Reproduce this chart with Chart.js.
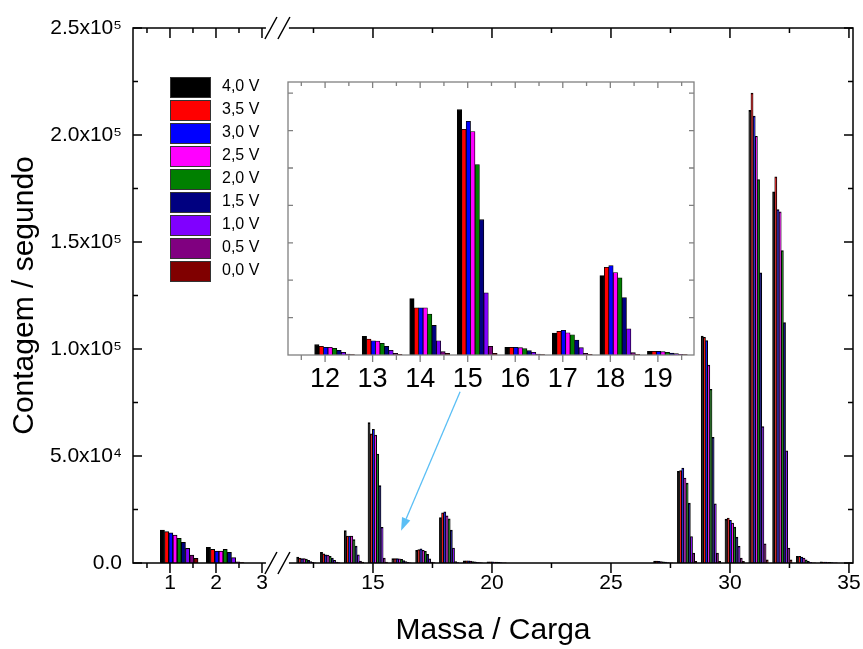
<!DOCTYPE html>
<html>
<head>
  <script src="https://cdn.jsdelivr.net/npm/chart.js"></script>
  <style>
    body { margin: 0; background: #fff; }
    #wrap { position: relative; width: 863px; height: 649px; }
    #mainChart { position: absolute; left: 0; top: 0; }
    #insetChart { position: absolute; left: 282px; top: 76px; }
  </style>
</head>
<body>
  <div id="wrap">
    <canvas id="mainChart" width="863" height="649"></canvas>
    <canvas id="insetChart" width="418" height="324"></canvas>
  </div>

  <script>
    // Series names and colours (one dataset per voltage)
    var voltageLabels = ['4,0 V', '3,5 V', '3,0 V', '2,5 V', '2,0 V', '1,5 V', '1,0 V', '0,5 V', '0,0 V'];
    var barColors = ['#000000', '#ff0000', '#0000ff', '#ff00ff', '#008000', '#000080', '#8000ff', '#800080', '#800000'];

    // Massa / Carga of every group (3 and 11 are the empty points on both sides of the break)
    var masses = [1, 2, 3, 11, 12, 13, 14, 15, 16, 17, 18, 19, 20, 21, 22, 23, 24, 25, 26, 27, 28, 29, 30, 31, 32, 33, 34];

    // counts per second, same order as masses
    var v40 = [15400, 7300, 0, 0, 2760, 4980, 15100, 65600, 2040, 5870, 21240, 980, 600, 0, 0, 0, 0, 0, 0, 900, 42800, 106000, 20500, 211500, 173400, 3100, 500];
    var v35 = [14650, 6400, 0, 0, 2310, 4270, 12620, 60360, 2040, 6310, 23470, 980, 550, 0, 0, 0, 0, 0, 0, 850, 43200, 105400, 21000, 219600, 180400, 3100, 450];
    var v30 = [14150, 5600, 0, 0, 2040, 3820, 12620, 62490, 2040, 6580, 23910, 980, 500, 0, 0, 0, 0, 0, 0, 800, 44300, 103900, 19900, 208800, 165100, 2800, 400];
    var v25 = [13050, 5600, 0, 0, 2040, 3730, 12620, 59730, 1960, 5960, 22040, 890, 450, 0, 0, 0, 0, 0, 0, 700, 39700, 92500, 18700, 199400, 164100, 2300, 350];
    var v20 = [11500, 6400, 0, 0, 1780, 3110, 10930, 50930, 1690, 5420, 20620, 710, 400, 0, 0, 0, 0, 0, 0, 600, 37300, 81200, 16800, 179200, 146000, 1500, 300];
    var v15 = [9650, 5000, 0, 0, 1240, 2310, 7910, 36180, 1160, 4000, 15380, 530, 300, 0, 0, 0, 0, 0, 0, 400, 28000, 58700, 12100, 135600, 112300, 800, 200];
    var v10 = [6850, 2500, 0, 0, 710, 1240, 3820, 16620, 710, 1960, 7020, 360, 200, 0, 0, 0, 0, 0, 0, 200, 12400, 27700, 7800, 63700, 52400, 300, 100];
    var v05 = [3750, 600, 0, 0, 270, 440, 890, 2310, 270, 440, 620, 180, 100, 0, 0, 0, 0, 0, 0, 100, 4600, 4600, 2300, 9000, 7000, 100, 50];
    var v00 = [2200, 200, 0, 0, 90, 180, 440, 440, 90, 180, 180, 90, 50, 0, 0, 0, 0, 0, 0, 50, 800, 800, 800, 1500, 1500, 50, 0];
    var series = [v40, v35, v30, v25, v20, v15, v10, v05, v00];

    // axis ticks
    var xTickMasses = [1, 2, 3, 15, 20, 25, 30, 35];
    var xTickLabels = ['1', '2', '3', '15', '20', '25', '30', '35'];
    var xMinorMasses = [0.5, 1.5, 2.5, 12.5, 17.5, 22.5, 27.5, 32.5];
    var yTickLabels = ['0.0', '5.0x10\u2074', '1.0x10\u2075', '1.5x10\u2075', '2.0x10\u2075', '2.5x10\u2075'];
    var insetTickMasses = [12, 13, 14, 15, 16, 17, 18, 19];
    var insetTickLabels = ['12', '13', '14', '15', '16', '17', '18', '19'];

    Chart.defaults.font.family = '"Liberation Sans", Arial, sans-serif';
    Chart.defaults.color = '#000';

    // broken x axis: the part left of the break is stretched
    function disp(m) {
      return m < 7 ? 6.47 + (m - 1) * 1.933 : m;
    }
    var groupShift = 0.2;   // bars of a group start at the tick

    var mainSets = voltageLabels.map(function (lab, i) {
      return {
        label: lab,
        data: masses.map(function (m, j) { return { x: disp(m + groupShift), y: series[i][j] }; }),
        backgroundColor: barColors[i],
        borderColor: '#000',
        borderWidth: 1,
        barThickness: 'flex',
        categoryPercentage: 0.82,
        barPercentage: 1
      };
    });

    var insetSets = voltageLabels.map(function (lab, i) {
      var pts = [];
      masses.forEach(function (m, j) {
        if (m >= 12 && m <= 19) pts.push({ x: m + groupShift, y: series[i][j] });
      });
      return {
        label: lab,
        data: pts,
        backgroundColor: barColors[i],
        borderColor: '#000',
        borderWidth: 0.8,
        barThickness: 'flex',
        categoryPercentage: 0.84,
        barPercentage: 1
      };
    });

    var arrowFrom = [18.66, 80000];
    var arrowTo = [16.18, 15100];

    var mainFrame = {
      id: 'mainFrame',
      afterDraw: function (chart) {
        var ctx = chart.ctx, a = chart.chartArea;
        var xs = chart.scales.x, ys = chart.scales.y;
        ctx.save();
        ctx.strokeStyle = '#000';
        ctx.lineWidth = 1.5;
        ctx.strokeRect(a.left, a.top, a.right - a.left, a.bottom - a.top);

        function xTick(m, len) {
          var px = xs.getPixelForValue(disp(m));
          ctx.beginPath();
          ctx.moveTo(px, a.bottom); ctx.lineTo(px, a.bottom + len);
          ctx.moveTo(px, a.top); ctx.lineTo(px, a.top + len);
          ctx.stroke();
        }
        xTickMasses.forEach(function (m) { xTick(m, 10); });
        xMinorMasses.forEach(function (m) { xTick(m, 5); });

        for (var v = 0; v <= 250000; v += 25000) {
          var py = ys.getPixelForValue(v);
          var len = v % 50000 === 0 ? 9 : 5;
          ctx.beginPath();
          ctx.moveTo(a.left, py); ctx.lineTo(a.left + len, py);
          ctx.moveTo(a.right, py); ctx.lineTo(a.right - len, py);
          ctx.stroke();
        }

        // axis break marks
        var b0 = xs.getPixelForValue(10.46), b1 = xs.getPixelForValue(11.51);
        [a.top, a.bottom].forEach(function (yy) {
          ctx.fillStyle = '#fff';
          ctx.fillRect(b0 + 1, yy - 2, b1 - b0 - 2, 4);
          ctx.beginPath();
          ctx.moveTo(b0, yy + 11); ctx.lineTo(b0 + 12, yy - 11);
          ctx.moveTo(b1 - 12, yy + 11); ctx.lineTo(b1, yy - 11);
          ctx.stroke();
        });

        // legend
        ctx.font = '16px "Liberation Sans", Arial, sans-serif';
        ctx.textBaseline = 'middle';
        ctx.textAlign = 'left';
        chart.data.datasets.forEach(function (ds, i) {
          var top = 77 + i * 23;
          ctx.fillStyle = ds.backgroundColor;
          ctx.fillRect(170, top, 40, 20);
          ctx.strokeStyle = '#333';
          ctx.lineWidth = 1;
          ctx.strokeRect(170.5, top + 0.5, 40, 20);
          ctx.fillStyle = '#000';
          ctx.fillText(ds.label, 222, top + 10);
        });

        // arrow from the inset to the zoomed region
        var x0 = xs.getPixelForValue(arrowFrom[0]), y0 = ys.getPixelForValue(arrowFrom[1]);
        var x1 = xs.getPixelForValue(arrowTo[0]), y1 = ys.getPixelForValue(arrowTo[1]);
        var ang = Math.atan2(y1 - y0, x1 - x0);
        var hl = 13, hw = 4.5;
        var bx = x1 - hl * Math.cos(ang), by = y1 - hl * Math.sin(ang);
        ctx.strokeStyle = '#5bbff5';
        ctx.fillStyle = '#5bbff5';
        ctx.lineWidth = 1.3;
        ctx.beginPath();
        ctx.moveTo(x0, y0); ctx.lineTo(bx, by);
        ctx.stroke();
        ctx.beginPath();
        ctx.moveTo(x1, y1);
        ctx.lineTo(bx + hw * Math.sin(ang), by - hw * Math.cos(ang));
        ctx.lineTo(bx - hw * Math.sin(ang), by + hw * Math.cos(ang));
        ctx.closePath();
        ctx.fill();
        ctx.restore();
      }
    };

    var insetFrame = {
      id: 'insetFrame',
      beforeDatasetsDraw: function (chart) {
        var a = chart.chartArea;
        chart.ctx.fillStyle = '#fff';
        chart.ctx.fillRect(a.left, a.top, a.right - a.left, a.bottom - a.top);
      },
      afterDraw: function (chart) {
        var ctx = chart.ctx, a = chart.chartArea;
        var xs = chart.scales.x, ys = chart.scales.y;
        ctx.save();
        ctx.strokeStyle = '#808080';
        ctx.lineWidth = 1.3;
        ctx.strokeRect(a.left, a.top, a.right - a.left, a.bottom - a.top);
        for (var m = 11.5; m <= 19.5; m += 0.5) {
          var px = xs.getPixelForValue(m);
          var major = m % 1 === 0;
          ctx.beginPath();
          ctx.moveTo(px, a.bottom); ctx.lineTo(px, a.bottom + (major ? 7 : 5));
          ctx.moveTo(px, a.top); ctx.lineTo(px, a.top + (major ? 6 : 4));
          ctx.stroke();
        }
        for (var v = 10000; v <= 70000; v += 10000) {
          var py = ys.getPixelForValue(v);
          ctx.beginPath();
          ctx.moveTo(a.left, py); ctx.lineTo(a.left + 5, py);
          ctx.moveTo(a.right, py); ctx.lineTo(a.right - 5, py);
          ctx.stroke();
        }
        ctx.restore();
      }
    };

    new Chart(document.getElementById('mainChart'), {
      type: 'bar',
      data: { datasets: mainSets },
      options: {
        responsive: false,
        animation: false,
        layout: { padding: { left: 0, top: 28, right: 10, bottom: 0 } },
        plugins: { legend: { display: false }, tooltip: { enabled: false } },
        scales: {
          x: {
            type: 'linear',
            min: 4.916,
            max: 35.17,
            offset: false,
            grid: { display: false, drawTicks: false },
            border: { display: false },
            afterBuildTicks: function (s) {
              s.ticks = xTickMasses.map(function (m) { return { value: disp(m) }; });
            },
            afterFit: function (s) { s.height = 86; s.paddingLeft = 0; s.paddingRight = 0; },
            ticks: {
              autoSkip: false,
              maxRotation: 0,
              padding: 8,
              font: { size: 21 },
              callback: function (v, i) { return xTickLabels[i]; }
            },
            title: { display: true, text: 'Massa / Carga', font: { size: 30 }, padding: { top: 0, bottom: 0 } }
          },
          y: {
            min: 0,
            max: 250000,
            grid: { display: false, drawTicks: false },
            border: { display: false },
            afterFit: function (s) { s.width = 133; s.paddingTop = 0; s.paddingBottom = 0; },
            ticks: {
              stepSize: 50000,
              padding: 11,
              font: { size: 21 },
              callback: function (v) { return yTickLabels[Math.round(v / 50000)]; }
            },
            title: { display: true, text: 'Contagem / segundo', font: { size: 30 }, padding: { top: 7, bottom: 0 } }
          }
        }
      },
      plugins: [mainFrame]
    });

    new Chart(document.getElementById('insetChart'), {
      type: 'bar',
      data: { datasets: insetSets },
      options: {
        responsive: false,
        animation: false,
        layout: { padding: { left: 6, top: 6, right: 6, bottom: 0 } },
        plugins: { legend: { display: false }, tooltip: { enabled: false } },
        scales: {
          x: {
            type: 'linear',
            min: 11.22,
            max: 19.76,
            offset: false,
            grid: { display: false, drawTicks: false },
            border: { display: false },
            afterBuildTicks: function (s) {
              s.ticks = insetTickMasses.map(function (m) { return { value: m }; });
            },
            afterFit: function (s) { s.height = 45; s.paddingLeft = 0; s.paddingRight = 0; },
            ticks: {
              autoSkip: false,
              maxRotation: 0,
              padding: 8,
              font: { size: 27 },
              callback: function (v, i) { return insetTickLabels[i]; }
            }
          },
          y: { display: false, min: 0, max: 73000 }
        }
      },
      plugins: [insetFrame]
    });
  </script>
</body>
</html>
